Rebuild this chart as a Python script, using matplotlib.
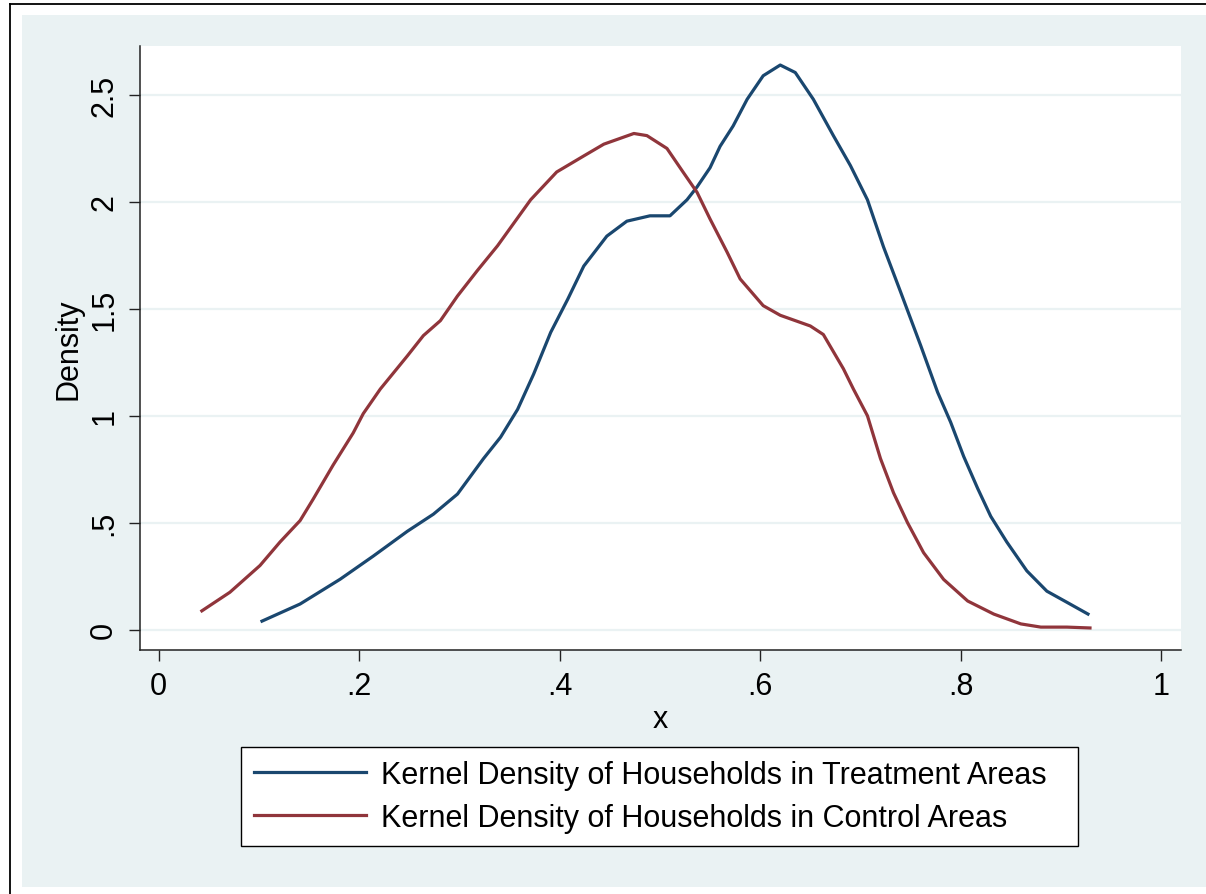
import matplotlib
matplotlib.use("Agg")
import matplotlib.pyplot as plt
from matplotlib.patches import Rectangle
from matplotlib.lines import Line2D

plt.rcParams['font.family'] = ['Liberation Sans', 'DejaVu Sans']

# Treatment areas (navy)
treat_x = [.103, .141, .181, .214, .248, .274, .298, .324, .341, .358, .374, .391, .408, .424,
           .447, .467, .490, .510, .527, .537, .550, .560, .573, .587, .603, .620, .635, .653,
           .673, .690, .707, .723, .740, .760, .777, .790, .803, .817, .830, .846, .866, .886,
           .906, .927]
treat_y = [.04, .12, .236, .344, .46, .54, .634, .80, .90, 1.03, 1.195, 1.39, 1.545, 1.70,
           1.84, 1.91, 1.935, 1.935, 2.01, 2.07, 2.16, 2.26, 2.355, 2.48, 2.59, 2.64, 2.605, 2.48,
           2.31, 2.17, 2.01, 1.79, 1.58, 1.33, 1.11, .97, .81, .66, .53, .41, .275, .18,
           .128, .073]

# Control areas (maroon)
ctrl_x = [.043, .071, .101, .121, .141, .154, .174, .194, .204, .221, .248, .264, .281, .298,
          .318, .338, .371, .397, .424, .444, .474, .487, .507, .523, .537, .550, .567, .580,
          .603, .620, .650, .663, .683, .693, .707, .720, .733, .747, .763, .783, .807, .833,
          .860, .880, .906, .929]
ctrl_y = [.088, .175, .30, .41, .51, .61, .77, .92, 1.01, 1.125, 1.28, 1.375, 1.445, 1.56,
          1.68, 1.795, 2.01, 2.14, 2.215, 2.27, 2.32, 2.31, 2.25, 2.14, 2.045, 1.92, 1.765, 1.64,
          1.515, 1.47, 1.42, 1.38, 1.22, 1.125, 1.00, .80, .64, .50, .36, .235, .134, .073,
          .027, .012, .012, .008]

xticks = [0, .2, .4, .6, .8, 1]
xticklabels = ['0', '.2', '.4', '.6', '.8', '1']
yticks = [0, .5, 1, 1.5, 2, 2.5]
yticklabels = ['0', '.5', '1', '1.5', '2', '2.5']
labels = ['Kernel Density of Households in Treatment Areas',
          'Kernel Density of Households in Control Areas']

NAVY = '#1a476f'
MAROON = '#90353b'
BG = '#eaf2f3'
FS = 22

W, H = 1206, 895
fig = plt.figure(figsize=(W / 100, H / 100), dpi=100)
fig.patch.set_facecolor('white')

# outer light region
fig.patches.append(Rectangle((22 / W, 1 - 888 / H), (1206 - 22) / W, (888 - 16) / H,
                             transform=fig.transFigure, facecolor=BG, edgecolor='none', zorder=0))
# black border (top and left visible)
fig.lines.append(Line2D([10 / W, 1], [1 - 5 / H, 1 - 5 / H], transform=fig.transFigure,
                        color='black', lw=1.3))
fig.lines.append(Line2D([10 / W, 10 / W], [0, 1 - 5 / H], transform=fig.transFigure,
                        color='black', lw=1.3))

ax = fig.add_axes([140 / W, 1 - 651 / H, (1181 - 140) / W, (651 - 47) / H])
ax.set_facecolor('white')
ax.set_zorder(2)

ax.plot(treat_x, treat_y, color=NAVY, lw=2.3, label=labels[0], zorder=3)
ax.plot(ctrl_x, ctrl_y, color=MAROON, lw=2.3, label=labels[1], zorder=3)

ax.set_xlim(-0.0187, 1.0198)
ax.set_ylim(-0.095, 2.729)

ax.set_xticks(xticks)
ax.set_xticklabels(xticklabels)
ax.set_yticks(yticks)
ax.set_yticklabels(yticklabels, rotation=90, va='center')

for y in yticks:
    ax.axhline(y, color=BG, lw=1.6, zorder=1)

for s in ['top', 'right']:
    ax.spines[s].set_visible(False)
for s in ['left', 'bottom']:
    ax.spines[s].set_color('#222222')
    ax.spines[s].set_linewidth(1.1)

ax.tick_params(axis='both', direction='out', length=8, width=1.0, color='#222222',
               labelsize=FS, labelcolor='black')
ax.tick_params(axis='x', pad=7)
ax.tick_params(axis='y', pad=7)

ax.set_xlabel('x', fontsize=FS, labelpad=2)
ax.set_ylabel('Density', fontsize=FS, labelpad=4)

leg = ax.legend(loc='center', bbox_to_anchor=(241 / W, 1 - 847 / H, 837 / W, 99 / H),
                bbox_transform=fig.transFigure, mode='expand', fontsize=FS, frameon=True,
                fancybox=False, edgecolor='black', framealpha=1, handlelength=3.66,
                handletextpad=0.5, borderpad=0.42, labelspacing=0.43, borderaxespad=0)
leg.get_frame().set_linewidth(1.0)

fig.savefig('out.png', dpi=100, facecolor=fig.get_facecolor())
